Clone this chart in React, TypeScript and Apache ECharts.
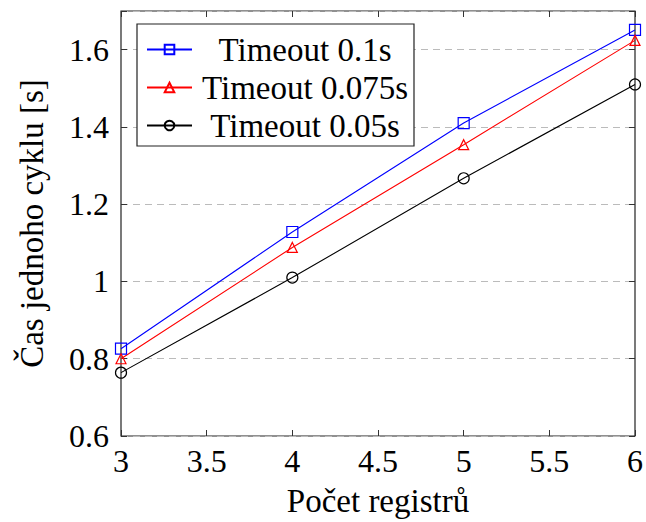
import React, { useEffect, useRef } from "react";
import * as echarts from "echarts";

const registers = [3, 4, 5, 6];
const timeout01 = [0.826, 1.128, 1.41, 1.651];
const timeout0075 = [0.8, 1.088, 1.354, 1.624];
const timeout005 = [0.764, 1.01, 1.267, 1.51];
const seriesNames = ["Timeout 0.1s", "Timeout 0.075s", "Timeout 0.05s"];

const FONT = "'Liberation Serif', serif";
const FS = 32;
const FS_L = 33;

export default function App() {
  const ref = useRef<HTMLDivElement>(null);
  useEffect(() => {
    const chart = echarts.init(ref.current!, null, { renderer: "svg" });
    const mk = (vals: number[]) => registers.map((x, i) => [x, vals[i]]);
    const baseX = {
      type: "value" as const,
      min: 3,
      max: 6,
      interval: 0.5,
      splitLine: { show: false },
      axisLine: { show: false },
      axisTick: { show: true, inside: true, length: 6, lineStyle: { color: "#333" } },
    };
    const baseY = {
      type: "value" as const,
      min: 0.6,
      max: 1.7,
      interval: 0.2,
      axisLine: { show: false },
      axisTick: { show: true, inside: true, length: 6, lineStyle: { color: "#333" } },
    };
    chart.setOption({
      animation: false,
      textStyle: { fontFamily: FONT },
      grid: {
        left: 121,
        right: 7,
        top: 11,
        bottom: 81,
        show: true,
        borderColor: "#222",
        borderWidth: 1.2,
        backgroundColor: "transparent",
      },
      legend: {
        orient: "vertical",
        left: 137,
        top: 24,
        data: seriesNames,
        backgroundColor: "#fff",
        borderColor: "#222",
        borderWidth: 1.2,
        padding: [9, 6, 4, 9],
        itemGap: 5,
        itemWidth: 45,
        itemHeight: 12,
        formatter: (name: string) => "{c|" + name + "}",
        textStyle: {
          fontFamily: FONT,
          fontSize: FS_L,
          color: "#000",
          rich: {
            c: { fontFamily: FONT, fontSize: FS_L, color: "#000", width: 216, align: "center" },
          },
        },
      },
      xAxis: [
        {
          ...baseX,
          name: "Počet registrů",
          nameLocation: "middle",
          nameGap: 48,
          nameTextStyle: { fontFamily: FONT, fontSize: FS_L, color: "#000" },
          axisLabel: { fontFamily: FONT, fontSize: FS, color: "#000", margin: 9 },
        },
        { ...baseX, position: "top", axisLabel: { show: false } },
      ],
      yAxis: [
        {
          ...baseY,
          name: "Čas jednoho cyklu [s]",
          nameLocation: "middle",
          nameGap: 73,
          nameTextStyle: { fontFamily: FONT, fontSize: FS_L, color: "#000" },
          axisLabel: {
            fontFamily: FONT,
            fontSize: FS,
            color: "#000",
            margin: 12,
            formatter: (v: number) => (Math.abs(v - 1.7) < 1e-6 ? "" : String(Math.round(v * 10) / 10)),
          },
          splitLine: { show: true, lineStyle: { color: "#bbb", type: [7, 5], width: 1 } },
        },
        { ...baseY, position: "right", axisLabel: { show: false }, splitLine: { show: false } },
      ],
      series: [
        {
          name: seriesNames[0],
          type: "line",
          data: mk(timeout01),
          color: "#0000ff",
          symbol: "rect",
          symbolSize: 11,
          itemStyle: { color: "rgba(255,255,255,0)", borderColor: "#0000ff", borderWidth: 1.2 },
          lineStyle: { color: "#0000ff", width: 1.1 },
        },
        {
          name: seriesNames[1],
          type: "line",
          data: mk(timeout0075),
          color: "#ff0000",
          symbol: "triangle",
          symbolSize: 10,
          itemStyle: { color: "rgba(255,255,255,0)", borderColor: "#ff0000", borderWidth: 1.2 },
          lineStyle: { color: "#ff0000", width: 1.1 },
        },
        {
          name: seriesNames[2],
          type: "line",
          data: mk(timeout005),
          color: "#000",
          symbol: "circle",
          symbolSize: 11,
          itemStyle: { color: "rgba(255,255,255,0)", borderColor: "#000", borderWidth: 1.2 },
          lineStyle: { color: "#000", width: 1.1 },
        },
      ],
    });
    return () => chart.dispose();
  }, []);
  return <div ref={ref} style={{ width: 646, height: 522, position: "absolute", left: 0, top: 0, background: "#fff" }} />;
}
